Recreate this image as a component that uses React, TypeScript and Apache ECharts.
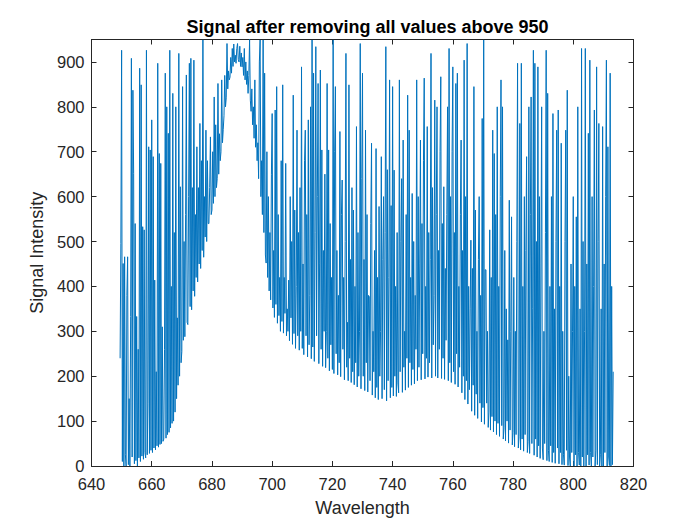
import React, { useEffect, useRef } from 'react';
import * as echarts from 'echarts';

// sampling grid of the spectrometer (nm)
const WL_START = 649.5;
const WL_STEP = 0.25;

const TITLE = 'Signal after removing all values above 950';
const X_NAME = 'Wavelength';
const Y_NAME = 'Signal Intensity';

const xTicks = { min: 640, max: 820, interval: 20 };
const yTicks = { min: 0, max: 950, interval: 100 };

// 649.5 - 679.75 nm
const riseSignal = [
  240, 496,
  926, 10, 451, 0, 466, 25, 0, 380, 466, 3, 150, 0, 333, 908, 20, 837, 652, 5, 540, 12,
  333, 0, 260, 18, 886, 10, 849, 22, 533, 15, 526, 30, 18, 926, 25, 140, 711, 28, 704, 35,
  771, 30, 689, 40, 414, 36, 210, 45, 897, 42, 696, 48, 674, 50, 310, 55, 60, 260, 875, 62,
  800, 70, 741, 75, 926, 85, 400, 95, 830, 100, 520, 120, 800, 150, 330, 180, 919, 200, 622, 230,
  255, 845, 280, 500, 288, 560, 871, 320, 315, 600, 897, 355, 908, 348, 620, 390, 904, 378, 560, 420,
  711, 410, 620, 450, 763, 440, 680, 480, 949, 465, 600, 510, 748, 500, 680, 540, 540, 620, 733, 560,
];

// 680 - 699.75 nm
const peakSignal = [
  570, 700, 585, 822, 600, 760, 620, 640, 852, 650, 740, 680, 700, 860, 720, 750, 780, 870, 800, 820,
  941, 840, 880, 860, 866, 910, 875, 930, 890, 940, 900, 915, 897, 930, 941, 905, 900, 935, 890, 920,
  889, 910, 870, 930, 860, 900, 850, 880, 830, 870, 950, 815, 790, 840, 760, 800, 730, 860, 710, 760,
  680, 720, 640, 900, 949, 600, 680, 560, 949, 520, 875, 470, 452, 700, 420, 600, 390, 520, 370, 650,
];

// 700 - 759.75 nm
const plateauSignal = [
  785, 352, 480, 331, 793, 360, 845, 318, 560, 335, 420, 300, 680, 322, 849, 296, 420, 340, 674, 290,
  350, 300, 414, 279, 600, 330, 500, 271, 826, 295, 570, 262, 400, 748, 290, 520, 258, 620, 300, 889,
  262, 450, 248, 680, 748, 290, 560, 243, 771, 270, 380, 800, 239, 949, 265, 875, 233, 520, 934, 290,
  600, 852, 228, 450, 882, 260, 704, 222, 480, 300, 650, 219, 300, 852, 240, 704, 212, 540, 270, 420,
  215, 949, 206, 700, 845, 250, 480, 203, 380, 230, 745, 199, 560, 637, 260, 420, 192, 500, 919, 220,
  320, 190, 849, 240, 460, 186, 620, 210, 570, 181, 400, 230, 756, 176, 520, 200, 300, 941, 172, 640,
  875, 200, 460, 168, 748, 230, 560, 165, 380, 377, 190, 540, 719, 158, 300, 210, 480, 152, 707, 175,
  420, 148, 578, 200, 300, 689, 150, 460, 600, 170, 520, 934, 145, 660, 190, 420, 860, 152, 580, 175,
  845, 156, 659, 200, 400, 155, 520, 185, 163, 860, 210, 500, 640, 164, 726, 220, 300, 169, 560, 240,
  826, 175, 748, 230, 420, 180, 607, 215, 500, 183, 380, 260, 860, 190, 600, 220, 450, 726, 192, 540,
  250, 680, 864, 194, 400, 240, 756, 198, 520, 230, 460, 919, 196, 620, 270, 380, 815, 200, 560, 800,
  196, 480, 260, 700, 867, 195, 540, 240, 622, 193, 440, 280, 560, 800, 190, 930, 230, 600, 186, 700,
];

// 760 - 813.25 nm
const tailSignal = [
  889, 210, 520, 182, 852, 250, 875, 176, 400, 220, 560, 726, 163, 480, 200, 904, 148, 600, 190, 941,
  138, 400, 170, 350, 503, 122, 440, 180, 845, 113, 570, 160, 300, 106, 460, 600, 140, 380, 98, 774,
  130, 949, 93, 437, 437, 140, 300, 86, 120, 526, 80, 420, 110, 748, 76, 696, 100, 560, 70, 800,
  95, 400, 66, 600, 860, 90, 800, 60, 85, 480, 56, 350, 100, 281, 51, 592, 80, 300, 555, 47,
  75, 420, 43, 300, 70, 500, 897, 40, 65, 763, 36, 897, 60, 400, 33, 600, 70, 480, 689, 30,
  55, 800, 28, 560, 822, 50, 350, 926, 24, 897, 60, 500, 20, 889, 45, 600, 17, 450, 800, 40,
  14, 300, 50, 520, 926, 12, 830, 35, 10, 400, 45, 600, 8, 785, 30, 350, 6, 500, 748, 40,
  793, 5, 400, 30, 719, 3, 300, 25, 2, 500, 748, 35, 837, 1, 200, 20, 0, 450, 30, 300,
  600, 0, 400, 25, 555, 0, 800, 30, 2, 350, 0, 930, 20, 500, 0, 300, 930, 0, 450, 25,
  741, 2, 904, 30, 0, 600, 20, 400, 793, 0, 35, 889, 3, 500, 763, 0, 25, 350, 0, 756,
  0, 450, 30, 600, 904, 0, 711, 20, 1, 875, 0, 400,
  3, 210,
];

const FONT = '"Liberation Sans", Arial, Helvetica, sans-serif';
const AXIS_COLOR = '#262626';
const LINE_COLOR = '#0072BD';

const App: React.FC = () => {
  const chartRef = useRef<HTMLDivElement>(null);

  useEffect(() => {
    if (!chartRef.current) return;
    const chart = echarts.init(chartRef.current, undefined, { renderer: 'svg' });

    const signal = [...riseSignal, ...peakSignal, ...plateauSignal, ...tailSignal];
    const points = signal.map((v, i) => [WL_START + i * WL_STEP, v]);

    const axisLine = { show: true, onZero: false, lineStyle: { color: AXIS_COLOR, width: 1 } };
    const axisTick = { show: true, inside: true, length: 5, lineStyle: { color: AXIS_COLOR, width: 1 } };
    const tickFont = { color: AXIS_COLOR, fontSize: 16.5, fontFamily: FONT };
    const nameFont = { color: AXIS_COLOR, fontSize: 18, fontFamily: FONT };

    chart.setOption({
      animation: false,
      backgroundColor: '#fff',
      title: {
        text: TITLE,
        left: 362.5,
        top: 13,
        textAlign: 'center',
        textStyle: { fontFamily: FONT, fontSize: 18, fontWeight: 'bold', color: '#000' },
      },
      grid: { left: 91.5, right: 66.5, top: 39.5, bottom: 59, containLabel: false },
      xAxis: [
        {
          type: 'value',
          position: 'bottom',
          ...xTicks,
          name: X_NAME,
          nameLocation: 'middle',
          nameGap: 33,
          nameTextStyle: nameFont,
          axisLine,
          axisTick,
          axisLabel: { ...tickFont, margin: 9 },
          splitLine: { show: false },
        },
        {
          type: 'value',
          position: 'top',
          ...xTicks,
          axisLine,
          axisTick,
          axisLabel: { show: false },
          splitLine: { show: false },
        },
      ],
      yAxis: [
        {
          type: 'value',
          position: 'left',
          ...yTicks,
          name: Y_NAME,
          nameLocation: 'middle',
          nameGap: 44,
          nameTextStyle: nameFont,
          axisLine,
          axisTick,
          axisLabel: {
            ...tickFont,
            margin: 7,
            formatter: (v: number) => (v % 100 === 0 ? String(v) : ''),
          },
          splitLine: { show: false },
        },
        {
          type: 'value',
          position: 'right',
          ...yTicks,
          axisLine,
          axisTick,
          axisLabel: { show: false },
          splitLine: { show: false },
        },
      ],
      series: [
        {
          type: 'line',
          xAxisIndex: 0,
          yAxisIndex: 0,
          data: points,
          symbol: 'none',
          showSymbol: false,
          clip: true,
          lineStyle: { color: LINE_COLOR, width: 1 },
        },
      ],
    });

    return () => {
      chart.dispose();
    };
  }, []);

  return (
    <div
      ref={chartRef}
      style={{ position: 'fixed', left: 0, top: 0, width: 700, height: 525, background: '#fff' }}
    />
  );
};

export default App;
